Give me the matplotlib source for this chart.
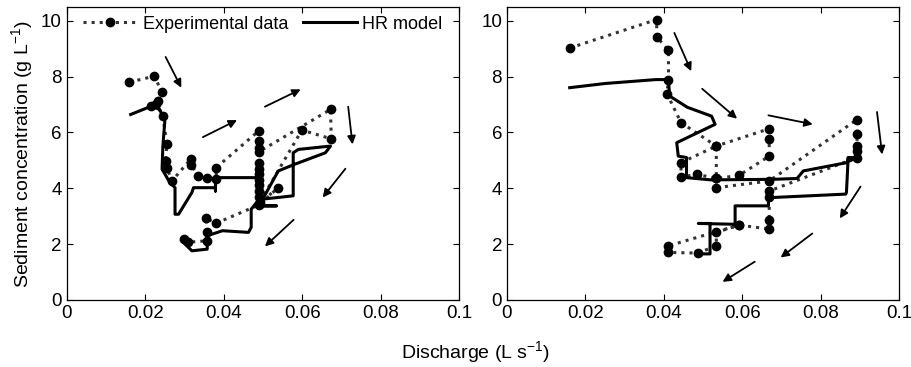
import numpy as np
import matplotlib
matplotlib.use('Agg')
import matplotlib.pyplot as plt

plt.rcParams['font.family'] = ['Liberation Sans', 'DejaVu Sans']
plt.rcParams['mathtext.fontset'] = 'custom'
plt.rcParams['mathtext.rm'] = 'Liberation Sans'
plt.rcParams['mathtext.it'] = 'Liberation Sans'

# ---- left event: experimental data (discharge L/s, concentration g/L)
q_exp_a = [0.0160, 0.0223, 0.0243, 0.0233, 0.0214, 0.0228, 0.0245, 0.0255, 0.0252, 0.0255,
           0.0268, 0.0317, 0.0317, 0.0335, 0.0358, 0.0381, 0.0381, 0.0489, 0.0489, 0.0489,
           0.0489, 0.0672, 0.0674, 0.0599, 0.0492, 0.0489, 0.0489, 0.0489, 0.0489, 0.0489,
           0.0489, 0.0489, 0.0489, 0.0539, 0.0489, 0.0381, 0.0355, 0.0358, 0.0358, 0.0310,
           0.0298]
c_exp_a = [7.80, 8.01, 7.44, 7.12, 6.94, 7.00, 6.60, 5.57, 4.98, 4.74,
           4.26, 5.06, 4.85, 4.44, 4.38, 4.32, 4.74, 6.05, 5.70, 5.45,
           5.30, 6.82, 5.77, 6.08, 3.50, 4.90, 4.70, 4.50, 4.30, 4.10,
           3.90, 3.70, 3.45, 4.02, 3.40, 2.75, 2.92, 2.42, 2.12, 2.07,
           2.18]

# ---- left event: HR model
q_mod_a = [0.0163, 0.0216, 0.0237, 0.0250, 0.0245, 0.0243, 0.0263, 0.0276, 0.0276, 0.0285,
           0.0319, 0.0323, 0.0379, 0.0379, 0.0379, 0.0488, 0.0488, 0.0534, 0.0490, 0.0488,
           0.0504, 0.0539, 0.0581, 0.0659, 0.0672, 0.0590, 0.0577, 0.0577, 0.0539, 0.0490,
           0.0470, 0.0470, 0.0463, 0.0397, 0.0358, 0.0358, 0.0319, 0.0293]
c_mod_a = [6.64, 6.94, 6.82, 6.40, 5.50, 4.68, 4.20, 4.02, 3.07, 3.07,
           3.85, 4.02, 4.02, 3.90, 4.38, 4.38, 3.37, 3.37, 3.37, 3.60,
           3.73, 4.62, 4.86, 5.27, 5.51, 5.39, 5.27, 3.73, 3.67, 3.60,
           3.25, 2.60, 2.42, 2.48, 2.30, 1.82, 1.76, 2.12]

# ---- right event: experimental data
q_exp_b = [0.0160, 0.0382, 0.0382, 0.0412, 0.0412, 0.0408, 0.0444, 0.0534, 0.0669, 0.0669,
           0.0669, 0.0592, 0.0534, 0.0485, 0.0444, 0.0444, 0.0534, 0.0534, 0.0534, 0.0669,
           0.0893, 0.0893, 0.0893, 0.0893, 0.0893, 0.0669, 0.0669, 0.0669, 0.0669, 0.0592,
           0.0412, 0.0412, 0.0487, 0.0534, 0.0534, 0.0592]
c_exp_b = [9.02, 10.04, 9.42, 8.94, 7.89, 7.39, 6.35, 5.51, 6.13, 5.77,
           5.15, 4.46, 4.35, 4.50, 4.40, 4.92, 5.51, 4.35, 4.02, 4.26,
           6.46, 5.93, 5.51, 5.33, 5.10, 3.90, 3.70, 2.86, 2.54, 2.68,
           1.94, 1.70, 1.68, 1.94, 2.42, 2.68]

# ---- right event: HR model
q_mod_b = [0.0160, 0.0250, 0.0380, 0.0412, 0.0415, 0.0460, 0.0522, 0.0531, 0.0433, 0.0437,
           0.0458, 0.0458, 0.0520, 0.0680, 0.0740, 0.0756, 0.0868, 0.0870, 0.0893, 0.0870,
           0.0866, 0.0864, 0.0680, 0.0667, 0.0667, 0.0582, 0.0582, 0.0488, 0.0518, 0.0518,
           0.0488]
c_mod_b = [7.60, 7.75, 7.89, 7.89, 7.30, 6.90, 6.58, 6.29, 5.63, 5.15,
           5.10, 4.38, 4.30, 4.32, 4.35, 4.62, 4.92, 5.10, 5.10, 4.95,
           3.85, 3.79, 3.67, 3.60, 3.37, 3.37, 2.71, 2.74, 2.74, 1.65,
           1.65]

# ---- hysteresis direction arrows (start, end)
arrows_a = [((0.0252, 8.70), (0.0292, 7.60)),
            ((0.0347, 5.83), (0.0434, 6.44)),
            ((0.0505, 6.92), (0.0596, 7.54)),
            ((0.0717, 6.92), (0.0728, 5.57)),
            ((0.0710, 4.70), (0.0652, 3.67)),
            ((0.0578, 2.87), (0.0505, 1.92))]
arrows_b = [((0.0427, 9.56), (0.0470, 8.19)),
            ((0.0498, 7.56), (0.0587, 6.49)),
            ((0.0667, 6.61), (0.0780, 6.29)),
            ((0.0944, 6.73), (0.0957, 5.21)),
            ((0.0902, 4.06), (0.0849, 2.92)),
            ((0.0779, 2.38), (0.0698, 1.52)),
            ((0.0632, 1.37), (0.0550, 0.65))]

ticksize = 13.5
labelsize = 14
fig = plt.figure(figsize=(9.12, 3.67), dpi=100)
ax1 = fig.add_axes([0.0731, 0.1826, 0.4305, 0.7992])
ax2 = fig.add_axes([0.5559, 0.1826, 0.4298, 0.7992])

for ax, qe, ce, qm, cm, arr in [(ax1, q_exp_a, c_exp_a, q_mod_a, c_mod_a, arrows_a),
                                (ax2, q_exp_b, c_exp_b, q_mod_b, c_mod_b, arrows_b)]:
    ax.plot(qe, ce, linestyle=':', color='0.2', linewidth=2.2, marker='o',
            markersize=6, markerfacecolor='k', markeredgecolor='k',
            label='Experimental data')
    ax.plot(qm, cm, 'k-', linewidth=2.2, label='HR model')
    for (x0, y0), (x1, y1) in arr:
        ax.annotate('', xy=(x1, y1), xytext=(x0, y0),
                    arrowprops=dict(arrowstyle='-|>', color='k', lw=1.3,
                                    mutation_scale=12, shrinkA=0, shrinkB=0))
    ax.set_xlim(0, 0.1)
    ax.set_ylim(0, 10.5)
    ax.set_xticks([0, 0.02, 0.04, 0.06, 0.08, 0.1])
    ax.set_xticklabels(['0', '0.02', '0.04', '0.06', '0.08', '0.1'])
    ax.set_yticks([0, 2, 4, 6, 8, 10])
    ax.tick_params(axis='both', which='major', labelsize=ticksize, direction='in',
                   top=True, right=True, length=4, width=0.8)
    for s in ax.spines.values():
        s.set_linewidth(0.9)

ax1.legend(loc='upper center', ncol=2, frameon=False, fontsize=13,
           handlelength=3.0, columnspacing=0.8, handletextpad=0.3,
           bbox_to_anchor=(0.5, 1.025))

fig.text(0.024, 0.58, 'Sediment concentration (g L$^{-1}$)', rotation=90,
         ha='center', va='center', fontsize=labelsize)
fig.text(0.521, 0.04, 'Discharge (L s$^{-1}$)', ha='center', va='center',
         fontsize=labelsize)

fig.savefig('out.png', dpi=100)
